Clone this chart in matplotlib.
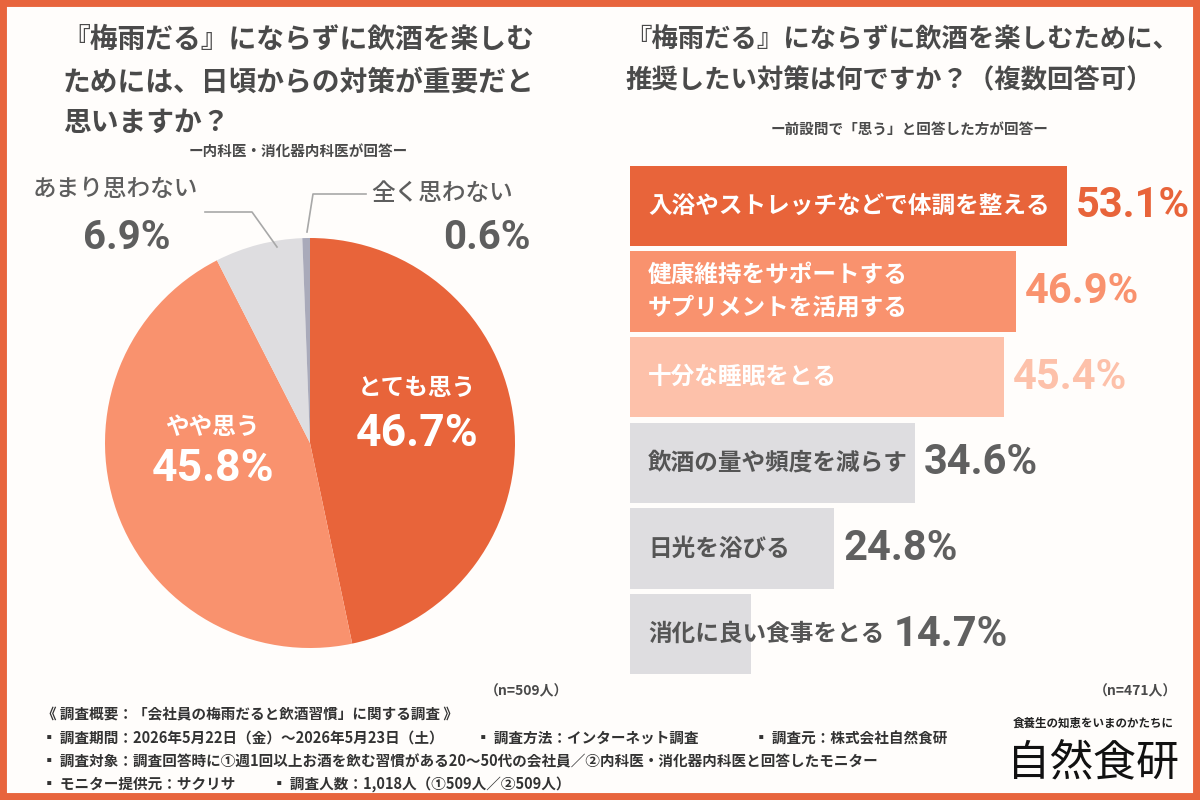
import matplotlib
matplotlib.use("Agg")
import matplotlib.pyplot as plt
from matplotlib.patches import Rectangle
from matplotlib.lines import Line2D

plt.rcParams['font.family'] = ['Noto Sans CJK JP', 'DejaVu Sans']

# ---- data ----
pie_labels = ["とても思う", "やや思う", "あまり思わない", "全く思わない"]
pie_values = [46.7, 45.8, 6.9, 0.6]
pie_colors = ["#E8643A", "#F9926E", "#DEDDE0", "#A9AABA"]

bar_labels = ["入浴やストレッチなどで体調を整える",
              "健康維持をサポートする\nサプリメントを活用する",
              "十分な睡眠をとる",
              "飲酒の量や頻度を減らす",
              "日光を浴びる",
              "消化に良い食事をとる"]
bar_values = [53.1, 46.9, 45.4, 34.6, 24.8, 14.7]
bar_colors = ["#E8643A", "#F9926E", "#FDC1AA", "#DEDDE0", "#DEDDE0", "#DEDDE0"]
bar_text_colors = ["white", "white", "white", "#555555", "#555555", "#555555"]
pct_colors = ["#E8643A", "#F9926E", "#FDC1AA", "#606060", "#606060", "#606060"]

W, H = 1200, 800
DARK = "#4A4A4A"
GRAY = "#5E5E5E"
NUMFONT = ['Roboto', 'DejaVu Sans']


def px(x, y):
    return x / W, 1 - y / H


fig = plt.figure(figsize=(12, 8), dpi=100)
fig.patch.set_facecolor("#FFFDFB")
fig.add_artist(Rectangle((0, 0), 1, 1, transform=fig.transFigure,
                         fill=False, edgecolor="#E8653D", linewidth=10))

# ---- titles ----
left_title = ["『梅雨だる』にならずに飲酒を楽しむ",
              "ためには、日頃からの対策が重要だと",
              "思いますか？"]
for i, (t, y) in enumerate(zip(left_title, [40, 83, 123])):
    x = 62 if i == 0 else 63
    fig.text(*px(x, y), t, fontsize=20, fontweight='bold', color=DARK, va='center')
fig.text(*px(298, 151), "ー内科医・消化器内科医が回答ー", fontsize=10.5,
         fontweight='bold', color=DARK, ha='center', va='center')

fig.text(*px(625, 40), "『梅雨だる』にならずに飲酒を楽しむために、", fontsize=19,
         fontweight='bold', color=DARK, va='center')
fig.text(*px(625, 80), "推奨したい対策は何ですか？（複数回答可）", fontsize=19,
         fontweight='bold', color=DARK, va='center')
fig.text(*px(910, 130), "ー前設問で「思う」と回答した方が回答ー", fontsize=10.5,
         fontweight='bold', color=DARK, ha='center', va='center')

# ---- pie ----
cx, cy, r = 310, 443, 205
ax1 = fig.add_axes([(cx - r) / W, 1 - (cy + r) / H, 2 * r / W, 2 * r / H])
ax1.pie(pie_values, colors=pie_colors, startangle=90, counterclock=False,
        radius=1.0)
ax1.set_xlim(-1, 1)
ax1.set_ylim(-1, 1)
ax1.set_aspect('equal')
ax1.axis('off')

fig.text(*px(417, 388), pie_labels[0], fontsize=17, fontweight='bold',
         color='white', ha='center', va='center')
fig.text(*px(417, 434), f"{pie_values[0]}%", fontsize=32, fontweight='bold',
         color='white', ha='center', va='center', family=NUMFONT)
fig.text(*px(212, 427), pie_labels[1], fontsize=17, fontweight='bold',
         color='white', ha='center', va='center')
fig.text(*px(213, 469), f"{pie_values[1]}%", fontsize=32, fontweight='bold',
         color='white', ha='center', va='center', family=NUMFONT)
fig.text(*px(115, 190), pie_labels[2], fontsize=17, fontweight='medium',
         color=GRAY, ha='center', va='center')
fig.text(*px(127, 238), f"{pie_values[2]}%", fontsize=29, fontweight='bold',
         color=GRAY, ha='center', va='center', family=NUMFONT)
fig.text(*px(442, 193), pie_labels[3], fontsize=17, fontweight='medium',
         color=GRAY, ha='center', va='center')
fig.text(*px(487, 238), f"{pie_values[3]}%", fontsize=29, fontweight='bold',
         color=GRAY, ha='center', va='center', family=NUMFONT)

# leader lines
for pts in ([(277, 247), (252, 212), (205, 212)],
            [(307, 232), (313, 194), (366, 194)]):
    xs = [p[0] / W for p in pts]
    ys = [1 - p[1] / H for p in pts]
    fig.add_artist(Line2D(xs, ys, transform=fig.transFigure,
                          color="#A8A8A8", linewidth=1.2))

fig.text(*px(526, 691), "（n=509人）", fontsize=10, fontweight='bold',
         color=DARK, ha='center', va='center')

# ---- bars ----
bx0, btop, bbot = 630, 163, 677
scale = (1067 - 630) / 53.1  # px per %
xmax = (1190 - bx0) / scale
ax2 = fig.add_axes([bx0 / W, 1 - bbot / H, (1190 - bx0) / W, (bbot - btop) / H])
ax2.patch.set_alpha(0)
ypos = list(range(len(bar_values)))
ax2.barh(ypos, bar_values, height=0.94, color=bar_colors)
ax2.set_xlim(0, xmax)
ax2.set_ylim(len(bar_values) - 0.5, -0.5)
ax2.axis('off')

fig.canvas.draw()
renderer = fig.canvas.get_renderer()
for i, (lab, v) in enumerate(zip(bar_labels, bar_values)):
    t = ax2.annotate(lab, xy=(0, i), xytext=(18, 0), textcoords='offset pixels',
                     fontsize=17, fontweight='bold', color=bar_text_colors[i],
                     va='center', ha='left', linespacing=1.45)
    ext = t.get_window_extent(renderer)
    bar_end = ax2.transData.transform((v, i))[0]
    # one-line labels that overflow push the number to the right
    x_disp = bar_end if "\n" in lab else max(bar_end, ext.x1)
    x_data = ax2.transData.inverted().transform((x_disp, 0))[0]
    ax2.annotate(f"{v}%", xy=(x_data, i), xytext=(9, 0),
                 textcoords='offset pixels', fontsize=30, fontweight='bold',
                 color=pct_colors[i], va='center', ha='left', family=NUMFONT,
                 annotation_clip=False)

fig.text(*px(1135, 691), "（n=471人）", fontsize=10, fontweight='bold',
         color=DARK, ha='center', va='center')

# ---- footer ----
FT = "#333333"
FS = 10.5
fig.text(*px(42, 714), "《 調査概要：「会社員の梅雨だると飲酒習慣」に関する調査 》",
         fontsize=FS, fontweight='bold', color=FT, va='center')
fig.text(*px(42, 738), "▪ 調査期間：2026年5月22日（金）～2026年5月23日（土）",
         fontsize=FS, fontweight='bold', color=FT, va='center')
fig.text(*px(476, 738), "▪ 調査方法：インターネット調査",
         fontsize=FS, fontweight='bold', color=FT, va='center')
fig.text(*px(754, 738), "▪ 調査元：株式会社自然食研",
         fontsize=FS, fontweight='bold', color=FT, va='center')
fig.text(*px(42, 761), "▪ 調査対象：調査回答時に①週1回以上お酒を飲む習慣がある20～50代の会社員／②内科医・消化器内科医と回答したモニター",
         fontsize=FS, fontweight='bold', color=FT, va='center')
fig.text(*px(42, 784), "▪ モニター提供元：サクリサ",
         fontsize=FS, fontweight='bold', color=FT, va='center')
fig.text(*px(272, 784), "▪ 調査人数：1,018人（①509人／②509人）",
         fontsize=FS, fontweight='bold', color=FT, va='center')

# logo
fig.text(*px(1093, 723), "食養生の知恵をいまのかたちに", fontsize=8.3,
         fontweight='bold', color="#222222", ha='center', va='center')
fig.text(*px(1093, 763), "自然食研", fontsize=31, color="#111111",
         ha='center', va='center')

fig.savefig("out.png", dpi=100, facecolor=fig.get_facecolor())
